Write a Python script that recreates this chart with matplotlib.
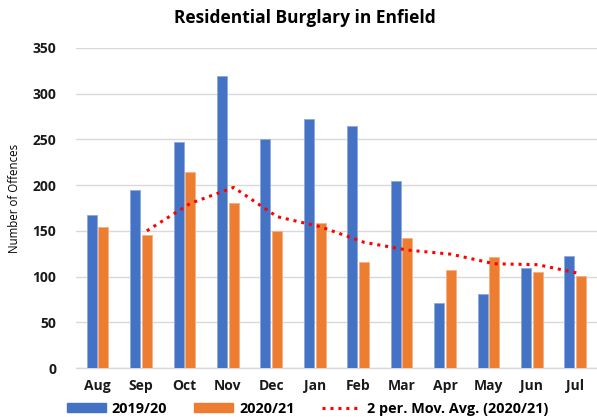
import numpy as np
import pandas as pd
import matplotlib
matplotlib.use('Agg')
import matplotlib.pyplot as plt
from matplotlib.patches import Patch
from matplotlib.lines import Line2D

months = ['Aug', 'Sep', 'Oct', 'Nov', 'Dec', 'Jan', 'Feb', 'Mar', 'Apr', 'May', 'Jun', 'Jul']
y2019 = [167, 195, 247, 319, 250, 272, 265, 204, 71, 81, 109, 123]
y2020 = [154, 146, 214, 181, 150, 159, 116, 142, 107, 121, 105, 101]
yticks = [0, 50, 100, 150, 200, 250, 300, 350]

# 2-period moving average of the 2020/21 series (as in the Excel trendline)
mov_avg = pd.Series(y2020).rolling(2).mean().values

plt.rcParams['font.family'] = ['Open Sans', 'DejaVu Sans']

fig = plt.figure(figsize=(5.97, 4.17), dpi=100)
ax = fig.add_axes([0.127, 0.1175, 0.873, 0.7674])

blue = '#4472C4'
orange = '#ED7D31'
red = '#FF0000'
dots = (0, (1, 1.6))

x = np.arange(len(months))
w = 0.23
off = 0.135
ax.bar(x - off, y2019, w, color=blue, edgecolor='#8faadc', linewidth=0.6, zorder=3)
ax.bar(x + off, y2020, w, color=orange, edgecolor='#f4b183', linewidth=0.6, zorder=3)
ax.plot(x + off, mov_avg, color=red, linestyle=dots, linewidth=2.2, zorder=4)

ax.set_xlim(-0.5, 11.5)
ax.set_ylim(0, 350)
ax.set_yticks(yticks)
ax.set_xticks(x)
ax.set_xticklabels(months)
ax.grid(axis='y', color='#d9d9d9', linewidth=1.0, zorder=0)
for s in ['top', 'right', 'left']:
    ax.spines[s].set_visible(False)
ax.spines['bottom'].set_color('#d9d9d9')
ax.spines['bottom'].set_linewidth(1.0)
ax.tick_params(axis='both', length=0, labelsize=10)
ax.tick_params(axis='y', pad=14)
ax.tick_params(axis='x', pad=8)
for lab in ax.get_xticklabels() + ax.get_yticklabels():
    lab.set_fontweight('bold')
    lab.set_color('#1a1a1a')

fig.text(0.024, 0.523, 'Number of Offences', rotation=90, ha='center', va='center',
         fontsize=8.3)

fig.text(0.51, 0.957, 'Residential Burglary in Enfield', ha='center', va='center',
         fontsize=12.5, fontweight='bold')

handles = [Patch(facecolor=blue, edgecolor=blue),
           Patch(facecolor=orange, edgecolor=orange),
           Line2D([0], [0], color=red, linestyle=dots, linewidth=2.2)]
labels = ['2019/20', '2020/21', '2 per. Mov. Avg. (2020/21)']
leg = fig.legend(handles, labels, loc='center', bbox_to_anchor=(0.515, 0.02), ncol=3,
                 frameon=False, handlelength=2.7, handleheight=0.5, columnspacing=1.9,
                 handletextpad=0.4, prop={'weight': 'bold', 'size': 10.4})

fig.savefig('out.png', dpi=100)
